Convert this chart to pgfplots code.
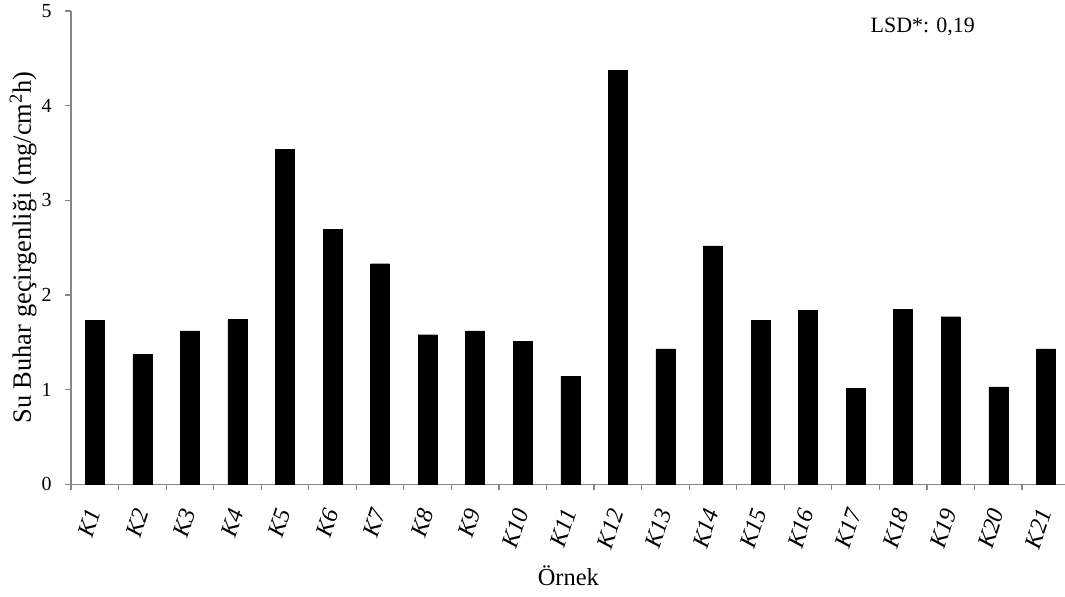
\documentclass[border=0pt]{standalone}
\usepackage{fontspec}
\setmainfont{Liberation Serif}
\usepackage{pgfplots}
\pgfplotsset{compat=1.18}
\definecolor{axgray}{RGB}{134,134,134}
\begin{document}
\begin{tikzpicture}
\begin{axis}[
  at={(71bp,112.7bp)}, anchor=south west,
  scale only axis,
  width=998.6bp, height=473.3bp,
  xmin=0.5, xmax=21.5,
  ymin=0, ymax=5,
  axis x line*=bottom, axis y line*=left,
  axis line style={axgray, line width=1.2bp},
  ybar, bar width=19bp,
  xtick={1,...,21},
  xticklabels={K1,K2,K3,K4,K5,K6,K7,K8,K9,K10,K11,K12,K13,K14,K15,K16,K17,K18,K19,K20,K21},
  ytick={0,1,2,3,4,5},
  minor xtick={0.5,1.5,...,21.5},
  minor ytick={0,1,2,3,4,5},
  major tick length=0pt,
  minor tick length=6bp,
  tick align=outside,
  tick style={axgray, line width=1.2bp},
  /pgf/number format/assume math mode=true,
  yticklabel style={font=\fontsize{20}{20}\selectfont, xshift=-16bp},
  xticklabel style={yshift=-22bp, xshift=0bp, font=\fontsize{24}{24}\selectfont\itshape, rotate=72, anchor=east},
  ylabel={Su Buhar geçirgenliği (mg/cm\textsuperscript{2}h)},
  ylabel style={font=\fontsize{26.5}{26.5}\selectfont, at={(axis description cs:-0.048,0.5)}, anchor=center, rotate=0},
  xlabel={Örnek},
  xlabel style={font=\fontsize{24.5}{24.5}\selectfont, at={(axis description cs:0.498,-0.213)}, anchor=base},
  clip=false,
]
\addplot[fill=black, draw=black] coordinates {
(1,1.73) (2,1.37) (3,1.62) (4,1.74) (5,3.54) (6,2.69) (7,2.33)
(8,1.58) (9,1.62) (10,1.51) (11,1.14) (12,4.37) (13,1.43) (14,2.52)
(15,1.73) (16,1.84) (17,1.01) (18,1.85) (19,1.77) (20,1.03) (21,1.43)
};
\node[font=\fontsize{22}{22}\selectfont, anchor=base] at (rel axis cs:0.853,0.955) {LSD*: 0,19};
\end{axis}
\pgfresetboundingbox
\useasboundingbox (0,0) rectangle (1065bp,597bp);
\end{tikzpicture}
\end{document}
